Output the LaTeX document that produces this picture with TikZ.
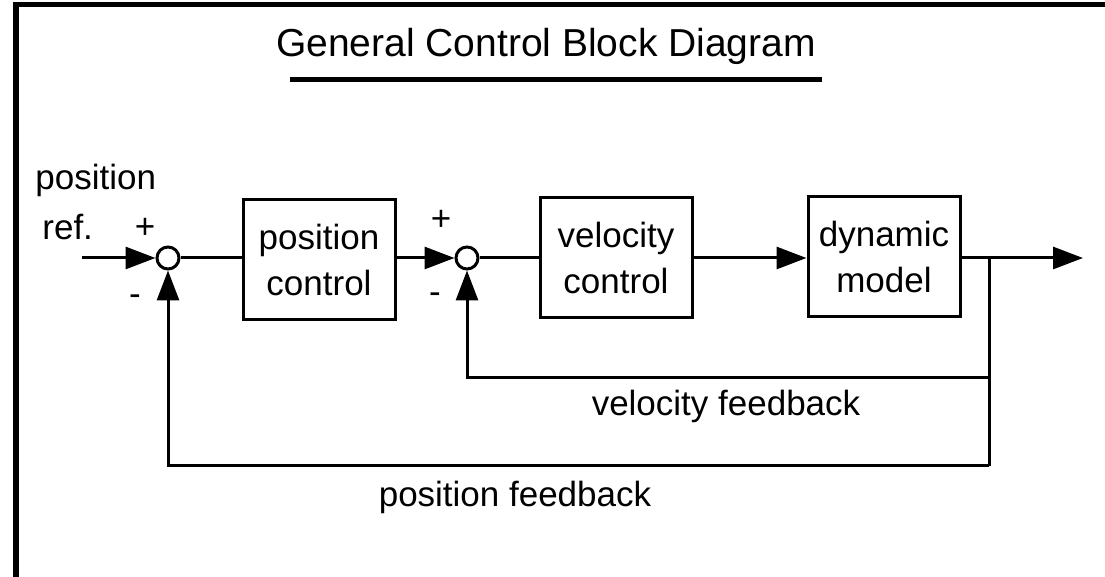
\documentclass[tikz,border=0pt]{standalone}
\usepackage{fontspec}
\setmainfont{Liberation Sans}
\usetikzlibrary{arrows.meta}
\begin{document}
\begin{tikzpicture}[x=0.5pt,y=-0.5pt,
  wire/.style={line width=1.5pt},
  sig/.style={wire,-{Triangle[length=15pt,width=11pt]}},
  block/.style={draw,line width=1.5pt,minimum width=76pt,minimum height=60pt,
    inner sep=0pt,align=center,font=\fontsize{17.5}{23}\selectfont},
  sumpt/.style={draw,circle,line width=1.5pt,minimum size=11pt,inner sep=0pt},
  lbl/.style={font=\fontsize{17.5}{22}\selectfont,inner sep=0pt}]
\useasboundingbox (0,0) rectangle (1105,577);
\fill[white] (0,0) rectangle (1105,577);

% frame
\draw[line width=3pt] (16,3) -- (16,577);
\draw[line width=2.5pt] (13,5) -- (1105,5);

% title
\node[inner sep=0pt,font=\fontsize{19.5}{24}\selectfont] (title) at (546,46) {General Control Block Diagram};
\draw[line width=2.5pt] (290,80) -- (822,80);

% blocks and summing points
\node[sumpt] (s1) at (168,258) {};
\node[block] (pc) at (319,260) {position\\control};
\node[sumpt] (s2) at (467,258) {};
\node[block] (vc) at (616,258) {velocity\\control};
\node[block] (dm) at (884,257) {dynamic\\model};

\coordinate (in) at (82,258);
\coordinate (br) at (989,258);
\coordinate (out) at (1083,258);
\coordinate (pfb) at (989,466);
\coordinate (vfb) at (989,378);

% forward path
\draw[sig] (in) -- (s1.west);
\draw[wire] (s1.east) -- (pc.west |- s1.east);
\draw[sig] (pc.east |- s2.west) -- (s2.west);
\draw[wire] (s2.east) -- (vc.west |- s2.east);
\draw[sig] (vc.east |- br) -- (dm.west |- br);
\draw[sig] (dm.east |- br) -- (out);

% feedback paths
\draw[wire] (br) -- (pfb);
\draw[sig] (pfb) -- (s1 |- pfb) -- (s1.south);
\draw[sig] (vfb) -- (s2 |- vfb) -- (s2.south);

% labels
\node[lbl,anchor=base west] (pref) at (35,190) {position};
\node[lbl,anchor=base west] (refl) at (42,240) {ref.};
\node[lbl] (p1) at (145,228) {+};
\node[lbl] (m1) at (135,300) {-};
\node[lbl] (p2) at (441,220) {+};
\node[lbl] (m2) at (435,298) {-};
\node[lbl] (vfl) at (726,406) {velocity feedback};
\node[lbl] (pfl) at (515,497) {position feedback};
\end{tikzpicture}
\end{document}
